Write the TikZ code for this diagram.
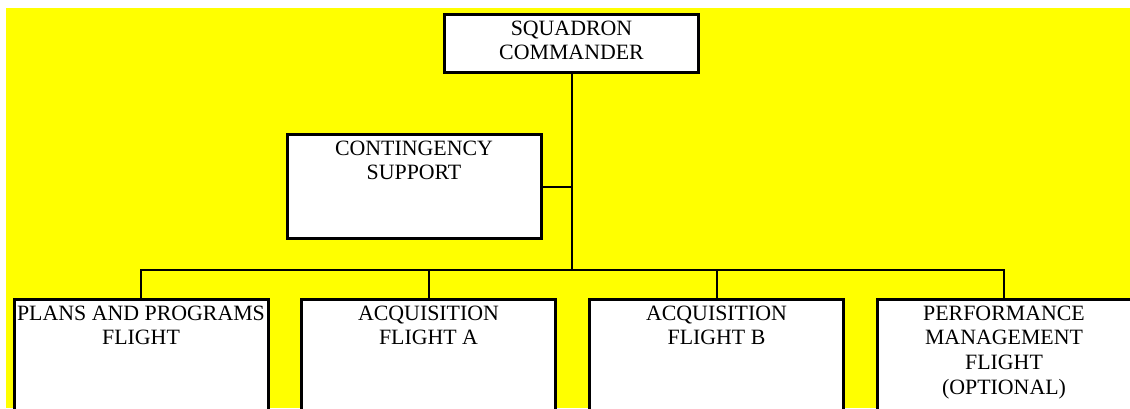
\documentclass[tikz,border=0pt]{standalone}
\usepackage{fontspec}
\setmainfont{Liberation Serif}
\usetikzlibrary{positioning}
\definecolor{mybg}{RGB}{255,255,0}

\begin{document}
\begin{tikzpicture}[
        x=0.75pt,
        y=-0.75pt,
        box/.style={
            draw,
            rectangle,
            fill=white,
            line width=2.25pt,
            minimum width=190.5pt,
            inner sep=0pt,
        },
        title/.style={
            font=\fontsize{16.4pt}{18.6pt}\selectfont,
            align=center,
            inner sep=0pt,
            anchor=north,
            yshift=-5.5pt,
        },
        wire/.style={
            line width=1.5pt,
        },
        label distance=0pt,
    ]

    \useasboundingbox (0, 0) rectangle (1130, 408);
    \clip (0, 0) rectangle (1130, 408);
    \fill[mybg] (6, 8) rectangle (1130, 408);

    \node[box, minimum height=43.5pt,
        label={[title]north:SQUADRON\\COMMANDER}] (sq) at (571.5, 43.5) {};
    \node[box, minimum height=78pt,
        label={[title]north:CONTINGENCY\\SUPPORT}] (cont) at (414, 186.5) {};

    \node[box, minimum height=90.75pt,
        label={[title]north:PLANS AND PROGRAMS\\FLIGHT}] (plans) at (141, 360) {};
    \node[box, minimum height=90.75pt,
        label={[title]north:ACQUISITION\\FLIGHT A}] (acqa) at (428.5, 360) {};
    \node[box, minimum height=90.75pt,
        label={[title]north:ACQUISITION\\FLIGHT B}] (acqb) at (716.5, 360) {};
    \node[box, minimum height=90.75pt,
        label={[title]north:PERFORMANCE\\MANAGEMENT\\FLIGHT\\(OPTIONAL)}] (perf) at (1004, 360) {};

    \coordinate (bus) at (571.5, 270);

    \begin{scope}[wire]
        \draw (sq.south) -- (bus);
        \draw (cont.east) -- (cont.east -| sq.south);
        \draw (plans.north) |- (bus) -| (perf.north);
        \draw (acqa.north) -- (acqa.north |- bus);
        \draw (acqb.north) -- (acqb.north |- bus);
    \end{scope}
\end{tikzpicture}
\end{document}
